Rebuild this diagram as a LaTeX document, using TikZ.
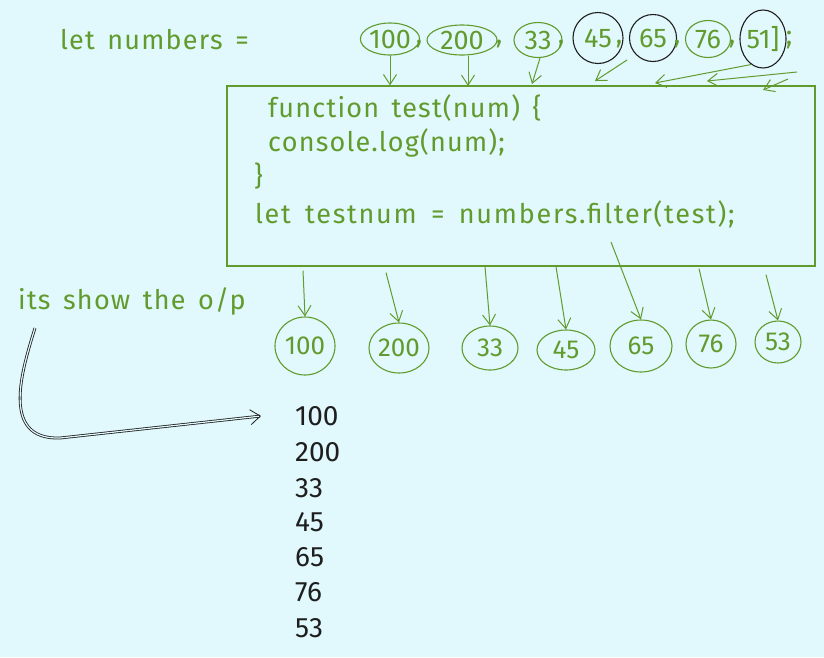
\documentclass[tikz,border=0pt]{standalone}
\usepackage{fontspec}
\setmainfont{Fira Sans}
\newfontfamily\sketch[LetterSpace=4.5,WordSpace=1.5]{Fira Sans}
\newfontfamily\sketchwide[LetterSpace=6.5,WordSpace=1.6]{Fira Sans}
\usetikzlibrary{shapes.geometric,arrows.meta}
\definecolor{bgc}{HTML}{E1F8FC}
\definecolor{grn}{HTML}{629B2D}
\definecolor{ink}{HTML}{1E1E1E}
\tikzset{
  gtxt/.style={font=\sketch\fontsize{27}{30}\selectfont, inner sep=0pt, anchor=west, text=grn},
  gwide/.style={gtxt, font=\sketchwide\fontsize{27}{30}\selectfont},
  btxt/.style={font=\fontsize{28}{30}\selectfont, inner sep=0pt, anchor=west, text=ink},
  num/.style={font=\fontsize{27}{30}\selectfont, inner sep=0pt, text=grn},
  bnum/.style={font=\fontsize{26}{30}\selectfont, inner sep=0pt, text=grn},
  ring/.style={draw=grn, line width=1.1pt, ellipse, inner sep=0pt},
  bring/.style={draw=ink, line width=1.1pt, ellipse, inner sep=0pt},
  arr/.style={draw=grn, line width=1pt, -{Straight Barb[length=10pt,width=13pt]}},
  barr/.style={draw=ink, line width=0.8pt, double=bgc, double distance=1.2pt, -{Straight Barb[length=10pt,width=15pt]}},
}
\begin{document}
\begin{tikzpicture}[x=1pt,y=-1pt]
\fill[bgc] (0,0) rectangle (824,657);
\useasboundingbox (0,0) rectangle (824,657);

% header
\node[gtxt] (let) at (60,40) {let numbers =};

% top numbers
\node[num, ring, minimum width=46, minimum height=32] (t1) at (390,39) {100};
\node[num] (c1) at (419,44) {,};
\node[num, ring, minimum width=70, minimum height=30] (t2) at (462,40) {200};
\node[num] (c2) at (499,44) {,};
\node[num, ring, minimum width=48, minimum height=35] (t3) at (538,40) {33};
\node[num] (c3) at (561,44) {,};
\node[num, bring, minimum width=50, minimum height=51] (t4) at (598,38) {45};
\node[num] (c4) at (619,44) {,};
\node[num, bring, minimum width=47, minimum height=47] (t5) at (653,38) {65};
\node[num] (c5) at (677,44) {,};
\node[num, ring, minimum width=45, minimum height=37] (t6) at (708,39) {76};
\node[num] (c6) at (732,44) {,};
\node[num, bring, minimum width=42, minimum height=58] (t7) at (763,39) {51]};
\node[num] (c7) at (789,40) {;};

% box
\node[draw=grn, line width=1.2pt, minimum width=588, minimum height=180, inner sep=0pt] (box) at (521,176) {};

\node[gtxt] (l1) at (268,108) {function test(num) \{};
\node[gtxt] (l2) at (268,143) {console.log(num);};
\node[gtxt] (l3) at (254,176) {\}};
\node[gwide] (l4) at (255,214) {let testnum = numbers.filter(test);};

% arrows into box
\draw[arr] (t1.south) -- (t1.south |- box.north);
\draw[arr] (t2.south) ++(6,0) -- (468,86);
\draw[arr] (t3.south) ++(2,0) -- (532,84);
\coordinate (a4) at (595,81);
\draw[arr] (627,60) -- (a4);
\coordinate (a5) at (655,83);
\draw[arr] (t7.south) ++(-12,-4) -- (a5);
\coordinate (a6) at (707,81);
\draw[arr] (797,72) -- (a6);
\coordinate (a7) at (763,90);
\draw[arr] (788,79) -- (a7);

% output circles
\node[bnum, ring, minimum width=60, minimum height=58] (o1) at (305,346) {100};
\node[bnum, ring, minimum width=60, minimum height=50] (o2) at (399,348) {200};
\node[bnum, ring, minimum width=56, minimum height=44] (o3) at (490,348) {33};
\node[bnum, ring, minimum width=58, minimum height=40] (o4) at (566,350) {45};
\node[bnum, ring, minimum width=62, minimum height=52] (o5) at (641,346) {65};
\node[bnum, ring, minimum width=50, minimum height=48] (o6) at (711,344) {76};
\node[bnum, ring, minimum width=46, minimum height=42] (o7) at (778,342) {53};

\draw[arr] (o1.north |- box.south) ++(-2,4) -- (o1.north);
\draw[arr] (o2.north |- box.south) ++(-13,6) -- (o2.north);
\draw[arr] (o3.north |- box.south) ++(-5,0) -- (o3.north);
\draw[arr] (o4.north |- box.south) ++(-10,0) -- (o4.north);
\draw[arr] (611,242) -- (o5.north);
\draw[arr] (o6.north |- box.south) ++(-12,2) -- (o6.north);
\draw[arr] (o7.north |- box.south) ++(-12,8) -- (o7.north);

% note and output
\node[gtxt] (note) at (18,301) {its show the o/p};
\node[btxt] (r1) at (295,416) {100};
\node[btxt] (r2) at (295,452) {200};
\node[btxt] (r3) at (295,488) {33};
\node[btxt] (r4) at (295,522) {45};
\node[btxt] (r5) at (295,557) {65};
\node[btxt] (r6) at (295,592) {76};
\node[btxt] (r7) at (295,628) {53};

\coordinate (cs) at (35,328);
\draw[barr] (cs) .. controls (22,370) and (0,440) .. (60,438) -- ([xshift=-34pt]r1.west);
\end{tikzpicture}
\end{document}
